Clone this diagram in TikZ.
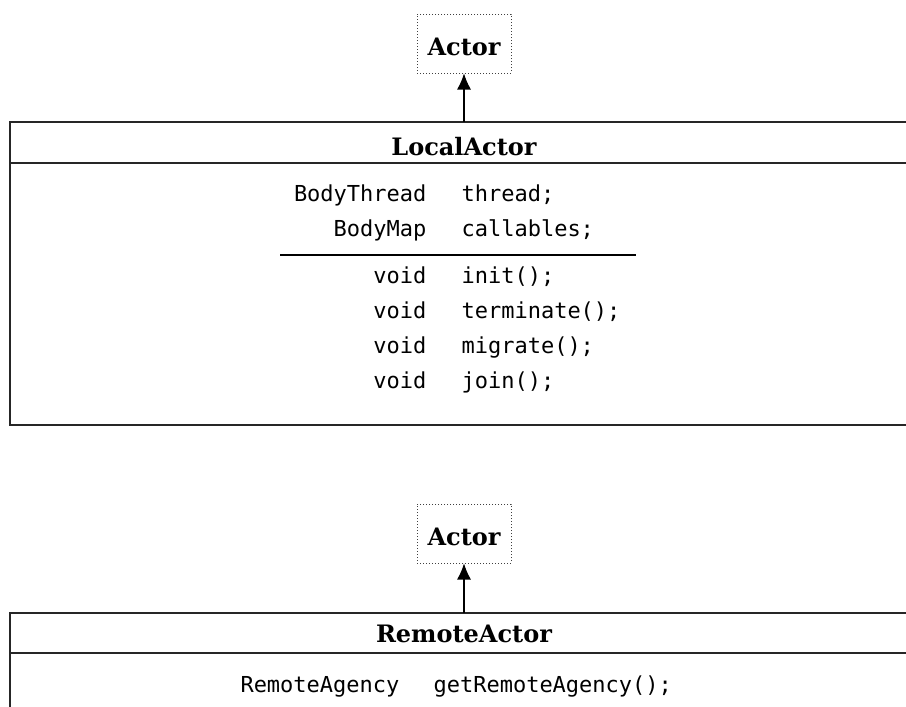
\documentclass[tikz,border=0pt]{standalone}
\usepackage{fontspec}
\setmainfont{DejaVu Serif}
\setmonofont{DejaVu Sans Mono}
\usetikzlibrary{arrows.meta}

\tikzset{
  classname/.style={font=\fontsize{24}{28}\selectfont\bfseries, inner sep=0pt, anchor=base},
  member/.style={font=\fontsize{22}{26}\selectfont\ttfamily, inner sep=0pt},
  superbox/.style={draw=black!75, line width=1pt, dash pattern=on 1pt off 2pt,
    minimum width=94pt, minimum height=59pt, inner sep=0pt},
}

\begin{document}
\begin{tikzpicture}[x=1pt, y=-1pt, >={Latex[length=16pt,width=14pt]}, line width=1.1pt]
  \useasboundingbox (0,0) rectangle (906,707);
  \clip (0,0) rectangle (906,707);
  % LocalActor
  \node[superbox] (actorL) at (464,43.5) {};
  \node[classname] at (464,55) {Actor};
  \draw[black!85] (10,122) rectangle (918,425);
  \draw[black!85] (10,163) -- (918,163);
  \coordinate (localtop) at (464,122);
  \draw[->] (localtop) -- (actorL.south);
  \node[classname] (localname) at (464,155) {LocalActor};
  \foreach \t/\n/\y in {BodyThread/thread;/201, BodyMap/callables;/236,
      void/init();/283, void/terminate();/318, void/migrate();/353, void/join();/388} {
    \node[member, anchor=base east] at (427,\y) {\t};
    \node[member, anchor=base west] at (461,\y) {\n};
  }
  \draw (280,255) -- (636,255);
  % RemoteActor
  \node[superbox] (actorR) at (464,533.5) {};
  \node[classname] at (464,545) {Actor};
  \draw[black!85] (10,613) rectangle (918,760);
  \draw[black!85] (10,653) -- (918,653);
  \coordinate (remotetop) at (464,613);
  \draw[->] (remotetop) -- (actorR.south);
  \node[classname] (remotename) at (464,642) {RemoteActor};
  \node[member, anchor=base east] (agencytype) at (400,692) {RemoteAgency};
  \node[member, anchor=base west] (agencyget) at (433,692) {getRemoteAgency();};
\end{tikzpicture}
\end{document}
